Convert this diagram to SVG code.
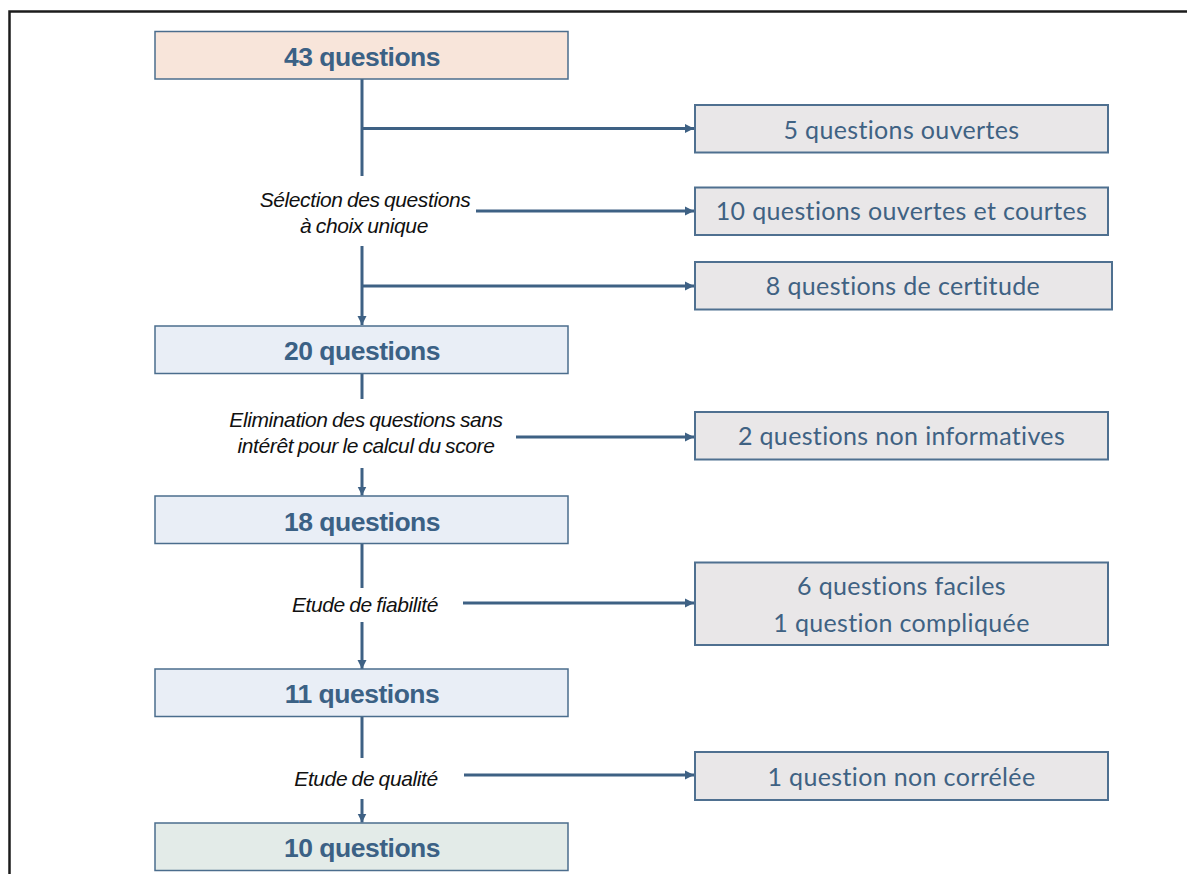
<svg xmlns="http://www.w3.org/2000/svg" width="1187" height="874" viewBox="0 0 1187 874">
  <style>
    .frame { fill: none; stroke: #1c1c1c; stroke-width: 2.5; }
    .main { stroke: #4b6d8d; stroke-width: 1.5; }
    .side { fill: #e9e7e8; stroke: #4f7090; stroke-width: 2; }
    .main-t { font-family: "Liberation Sans", Arial, sans-serif; font-weight: bold; font-size: 26.5px; letter-spacing: -0.5px; fill: #3b6185; text-anchor: middle; }
    .side-t { font-family: Lato, "Open Sans", sans-serif; font-size: 25px; letter-spacing: 0.35px; fill: #3f6283; text-anchor: middle; }
    .step-t { font-family: "Liberation Sans", Arial, sans-serif; font-style: italic; font-size: 21px; letter-spacing: -0.4px; word-spacing: -1px; fill: #111; text-anchor: middle; }
    .link { fill: none; stroke: #3e6184; stroke-width: 3; }
  </style>
  <defs>
    <marker id="arrow" markerUnits="userSpaceOnUse" markerWidth="10" markerHeight="10" refX="9" refY="5" orient="auto">
      <path d="M0,0.5 L9,5 L0,9.5 Z" fill="#3e6184"/>
    </marker>
  </defs>

  <!-- page frame -->
  <path class="frame" d="M9.5,874 V11.5 H1187"/>

  <!-- flow connectors -->
  <g id="connectors">
    <line class="link" x1="362" y1="79" x2="362" y2="176"/>
    <line class="link" x1="362" y1="128.5" x2="694" y2="128.5" marker-end="url(#arrow)"/>
    <line class="link" x1="476" y1="211" x2="694" y2="211" marker-end="url(#arrow)"/>
    <line class="link" x1="362" y1="246" x2="362" y2="325" marker-end="url(#arrow)"/>
    <line class="link" x1="362" y1="286" x2="694" y2="286" marker-end="url(#arrow)"/>

    <line class="link" x1="362" y1="373" x2="362" y2="399"/>
    <line class="link" x1="516" y1="437" x2="694" y2="437" marker-end="url(#arrow)"/>
    <line class="link" x1="362" y1="468" x2="362" y2="495.5" marker-end="url(#arrow)"/>

    <line class="link" x1="362" y1="543" x2="362" y2="588"/>
    <line class="link" x1="463" y1="603" x2="694" y2="603" marker-end="url(#arrow)"/>
    <line class="link" x1="362" y1="622" x2="362" y2="669" marker-end="url(#arrow)"/>

    <line class="link" x1="362" y1="717" x2="362" y2="758"/>
    <line class="link" x1="464" y1="775" x2="694" y2="775" marker-end="url(#arrow)"/>
    <line class="link" x1="362" y1="799" x2="362" y2="822.5" marker-end="url(#arrow)"/>
  </g>

  <!-- step labels -->
  <g id="step-selection">
    <text class="step-t" x="365" y="207">Sélection des questions</text>
    <text class="step-t" x="364" y="233">à choix unique</text>
  </g>
  <g id="step-elimination">
    <text class="step-t" x="366" y="427">Elimination des questions sans</text>
    <text class="step-t" x="366" y="453">intérêt pour le calcul du score</text>
  </g>
  <g id="step-fiabilite">
    <text class="step-t" x="365" y="612">Etude de fiabilité</text>
  </g>
  <g id="step-qualite">
    <text class="step-t" x="366" y="786">Etude de qualité</text>
  </g>

  <!-- main column -->
  <g id="n43">
    <rect class="main" x="155" y="31.5" width="413" height="47.5" fill="#f8e5da"/>
    <text class="main-t" x="362" y="65.5">43 questions</text>
  </g>
  <g id="n20">
    <rect class="main" x="155" y="326" width="413" height="47.5" fill="#e9eef6"/>
    <text class="main-t" x="362" y="360">20 questions</text>
  </g>
  <g id="n18">
    <rect class="main" x="155" y="496" width="413" height="47.5" fill="#e9eef6"/>
    <text class="main-t" x="362" y="530.5">18 questions</text>
  </g>
  <g id="n11">
    <rect class="main" x="155" y="669" width="413" height="47.5" fill="#e9eef6"/>
    <text class="main-t" x="362" y="703">11 questions</text>
  </g>
  <g id="n10">
    <rect class="main" x="155" y="823" width="413" height="47.5" fill="#e3ebe8"/>
    <text class="main-t" x="362" y="857">10 questions</text>
  </g>

  <!-- excluded items -->
  <g id="x-ouvertes">
    <rect class="side" x="695" y="105" width="413" height="47.5"/>
    <text class="side-t" x="901.5" y="139">5 questions ouvertes</text>
  </g>
  <g id="x-courtes">
    <rect class="side" x="695" y="187.5" width="413" height="47.5"/>
    <text class="side-t" x="901.5" y="220">10 questions ouvertes et courtes</text>
  </g>
  <g id="x-certitude">
    <rect class="side" x="695" y="262" width="417" height="47.5"/>
    <text class="side-t" x="903" y="294.5">8 questions de certitude</text>
  </g>
  <g id="x-non-informatives">
    <rect class="side" x="695" y="412" width="413" height="47.5"/>
    <text class="side-t" x="901.5" y="445">2 questions non informatives</text>
  </g>
  <g id="x-fiabilite">
    <rect class="side" x="695" y="562.5" width="413" height="82.5"/>
    <text class="side-t" x="901.5" y="595">6 questions faciles</text>
    <text class="side-t" x="901.5" y="631.5">1 question compliquée</text>
  </g>
  <g id="x-non-correlee">
    <rect class="side" x="695" y="752" width="413" height="48"/>
    <text class="side-t" x="901.5" y="786">1 question non corrélée</text>
  </g>
</svg>
